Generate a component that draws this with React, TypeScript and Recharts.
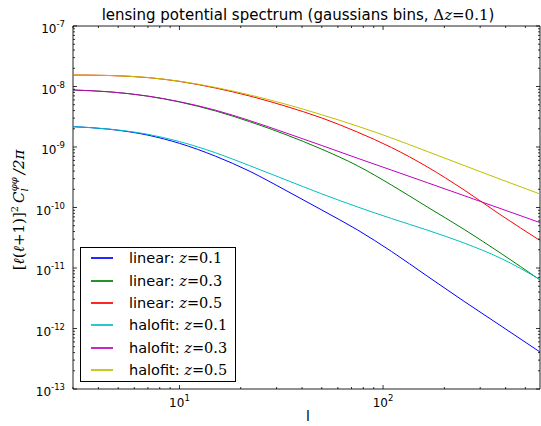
import React from 'react';
import { LineChart, Line, XAxis, YAxis, Legend, ReferenceArea } from 'recharts';

const W = 541;
const H = 426;
const PLOT_LEFT = 73;
const PLOT_TOP = 26;
const PLOT_RIGHT = 540;
const PLOT_BOTTOM = 389;
const PLOT_W = PLOT_RIGHT - PLOT_LEFT;
const PLOT_H = PLOT_BOTTOM - PLOT_TOP;

// multipole values
const ells = [3, 4.5, 7, 10, 15, 22, 33, 50, 75, 110, 165, 250, 380, 590];
const linearZ01 = [2.17e-9, 1.97e-9, 1.57e-9, 1.15e-9, 7.07e-10, 4.01e-10, 1.95e-10, 9.09e-11, 4.25e-11, 1.88e-11, 7.32e-12, 2.81e-12, 1.1e-12, 4.09e-13];
const linearZ03 = [8.75e-9, 8.17e-9, 6.92e-9, 5.55e-9, 3.95e-9, 2.64e-9, 1.62e-9, 9.2e-10, 4.89e-10, 2.35e-10, 1.02e-10, 4.35e-11, 1.74e-11, 6.34e-12];
const linearZ05 = [1.549e-8, 1.52e-8, 1.403e-8, 1.214e-8, 9.45e-9, 7.0e-9, 4.76e-9, 3.02e-9, 1.76e-9, 9.81e-10, 4.69e-10, 1.95e-10, 7.46e-11, 2.85e-11];
const halofitZ01 = [2.17e-9, 1.98e-9, 1.62e-9, 1.23e-9, 8.05e-10, 4.95e-10, 2.9e-10, 1.68e-10, 1.02e-10, 6.58e-11, 4.22e-11, 2.59e-11, 1.44e-11, 6.46e-12];
const halofitZ03 = [8.75e-9, 8.17e-9, 6.94e-9, 5.61e-9, 4.07e-9, 2.75e-9, 1.73e-9, 1.06e-9, 6.51e-10, 4.15e-10, 2.57e-10, 1.57e-10, 9.52e-11, 5.63e-11];
const halofitZ05 = [1.549e-8, 1.52e-8, 1.409e-8, 1.224e-8, 9.66e-9, 7.29e-9, 5.14e-9, 3.41e-9, 2.21e-9, 1.41e-9, 8.43e-10, 4.95e-10, 2.9e-10, 1.67e-10];

// series metadata
const seriesKeys = ['lin01', 'lin03', 'lin05', 'hal01', 'hal03', 'hal05'];
const seriesModels = ['linear', 'linear', 'linear', 'halofit', 'halofit', 'halofit'];
const seriesZ = ['0.1', '0.3', '0.5', '0.1', '0.3', '0.5'];
const seriesColors = ['#0000ff', '#008000', '#ff0000', '#00bfbf', '#bf00bf', '#bfbf00'];
const seriesValues = [linearZ01, linearZ03, linearZ05, halofitZ01, halofitZ03, halofitZ05];

// axes
const xDomain = [3, 590];
const yDomain = [1e-13, 1e-7];
const xMajorExponents = [1, 2];
const xMinorTicks = [3, 4, 5, 6, 7, 8, 9, 20, 30, 40, 50, 60, 70, 80, 90, 200, 300, 400, 500];
const yMajorExponents = [-13, -12, -11, -10, -9, -8, -7];
const yMinorMantissas = [2, 3, 4, 5, 6, 7, 8, 9];

const data = ells.map((l, i) => {
  const row: any = { l };
  seriesKeys.forEach((k, j) => {
    row[k] = seriesValues[j][i];
  });
  return row;
});

const xTicks = [...xMajorExponents.map((e) => Number(`1e${e}`)), ...xMinorTicks];
const yTicks: number[] = [...yMajorExponents.map((e) => Number(`1e${e}`))];
yMajorExponents.slice(0, -1).forEach((e) => {
  yMinorMantissas.forEach((m) => yTicks.push(Number(`${m}e${e}`)));
});

const isMajor = (v: number) => {
  const e = Math.log10(v);
  return Math.abs(e - Math.round(e)) < 1e-9;
};

const SANS = 'DejaVu Sans';
const SERIF = 'DejaVu Serif';
const TICK_COLOR = '#000';

function XTick(props: any) {
  const { x, y, payload } = props;
  const v = payload.value;
  const major = isMajor(v);
  const len = major ? 4 : 2;
  return (
    <g>
      <line x1={x} x2={x} y1={y} y2={y - len} stroke={TICK_COLOR} strokeWidth={0.8} />
      <line x1={x} x2={x} y1={y - PLOT_H} y2={y - PLOT_H + len} stroke={TICK_COLOR} strokeWidth={0.8} />
      {major && (
        <text x={x} y={y + 18} textAnchor="middle" fontSize={12} fontFamily={SANS} fill="#000">
          10
          <tspan dy={-6} fontSize={8.5}>
            {Math.round(Math.log10(v))}
          </tspan>
        </text>
      )}
    </g>
  );
}

function YTick(props: any) {
  const { x, y, payload } = props;
  const v = payload.value;
  const major = isMajor(v);
  const len = major ? 4 : 2;
  return (
    <g>
      <line x1={x} x2={x + len} y1={y} y2={y} stroke={TICK_COLOR} strokeWidth={0.8} />
      <line x1={x + PLOT_W} x2={x + PLOT_W - len} y1={y} y2={y} stroke={TICK_COLOR} strokeWidth={0.8} />
      {major && (
        <text x={x - 8} y={y + 7} textAnchor="end" fontSize={12} fontFamily={SANS} fill="#000">
          10
          <tspan dy={-6} fontSize={8.5}>
            {Math.round(Math.log10(v))}
          </tspan>
        </text>
      )}
    </g>
  );
}

const LEG_LEFT = 80;
const LEG_TOP = 247;
const LEG_W = 156;
const LEG_H = 135;
const LEG_ROW0 = 11.3;
const LEG_ROW_STEP = 22.3;

function LegendBox() {
  return (
    <div
      style={{
        position: 'relative',
        width: LEG_W,
        height: LEG_H,
        boxSizing: 'border-box',
        border: '1px solid #000',
        background: '#fff',
      }}
    >
      {seriesKeys.map((k, i) => {
        const cy = LEG_ROW0 + LEG_ROW_STEP * i - 1;
        return (
          <div key={k}>
            <div
              style={{
                position: 'absolute',
                left: 10,
                top: Math.round(cy) - 1,
                width: 22,
                height: 2,
                background: seriesColors[i],
                opacity: 0.85,
              }}
            />
            <div
              style={{
                position: 'absolute',
                left: 48,
                top: cy - 10,
                height: 20,
                lineHeight: '20px',
                whiteSpace: 'nowrap',
                fontFamily: SANS,
                fontSize: 14.5,
                color: '#000',
              }}
            >
              {seriesModels[i]}:{' '}
              <span style={{ fontFamily: SERIF, fontStyle: 'italic' }}>z</span>
              <span style={{ fontFamily: SERIF }}>={seriesZ[i]}</span>
            </div>
          </div>
        );
      })}
    </div>
  );
}

export default function App() {
  return (
    <div style={{ position: 'absolute', left: 0, top: 0, width: W, height: H, background: '#fff' }}>
      <LineChart
        width={W}
        height={H}
        data={data}
        margin={{ top: PLOT_TOP, right: W - PLOT_RIGHT, bottom: 0, left: 0 }}
      >
        <XAxis
          dataKey="l"
          type="number"
          scale="log"
          domain={xDomain}
          allowDataOverflow
          ticks={xTicks}
          interval={0}
          tick={<XTick />}
          tickLine={false}
          axisLine={false}
          tickSize={0}
          tickMargin={0}
          height={H - PLOT_BOTTOM}
        />
        <YAxis
          type="number"
          scale="log"
          domain={yDomain}
          allowDataOverflow
          ticks={yTicks}
          interval={0}
          tick={<YTick />}
          tickLine={false}
          axisLine={false}
          tickSize={0}
          tickMargin={0}
          width={PLOT_LEFT}
        />
        <ReferenceArea
          x1={xDomain[0]}
          x2={xDomain[1]}
          y1={yDomain[0]}
          y2={yDomain[1]}
          fill="none"
          fillOpacity={0}
          stroke="#222"
          strokeWidth={1}
          ifOverflow="visible"
        />
        {seriesKeys.map((k, i) => (
          <Line
            key={k}
            dataKey={k}
            name={`${seriesModels[i]}: z=${seriesZ[i]}`}
            type="monotone"
            stroke={seriesColors[i]}
            strokeWidth={1}
            dot={false}
            activeDot={false}
            isAnimationActive={false}
          />
        ))}
        <Legend
          layout="vertical"
          align="center"
          verticalAlign="middle"
          content={<LegendBox />}
          wrapperStyle={{ left: LEG_LEFT, top: LEG_TOP, width: LEG_W, height: LEG_H }}
        />
      </LineChart>
      <svg
        width={W}
        height={H}
        style={{ position: 'absolute', left: 0, top: 0, pointerEvents: 'none' }}
      >
        <text x={298} y={20} textAnchor="middle" fontSize={15} fontFamily={SANS} fill="#000">
          lensing potential spectrum (gaussians bins,{' '}
          <tspan fontFamily={SERIF}>Δ</tspan>
          <tspan fontFamily={SERIF} fontStyle="italic">z</tspan>
          <tspan fontFamily={SERIF}>=0.1</tspan>)
        </text>
        <text x={308} y={421} textAnchor="middle" fontSize={14} fontFamily={SANS} fill="#000">
          l
        </text>
        <text
          x={24}
          y={210}
          transform="rotate(-90 24 210)"
          textAnchor="middle"
          fontSize={15}
          fontFamily={SERIF}
          fill="#000"
        >
          [<tspan fontStyle="italic">ℓ</tspan>(<tspan fontStyle="italic">ℓ</tspan>+1)]
          <tspan dy={-6} fontSize={10}>2</tspan>
          <tspan dy={6} dx={3} fontStyle="italic">C</tspan>
          <tspan dy={4} fontSize={10} fontStyle="italic">l</tspan>
          <tspan dy={-11} dx={-3} fontSize={10} fontStyle="italic">φφ</tspan>
          <tspan dy={7} dx={3} fontStyle="italic">/2π</tspan>
        </text>
      </svg>
    </div>
  );
}
